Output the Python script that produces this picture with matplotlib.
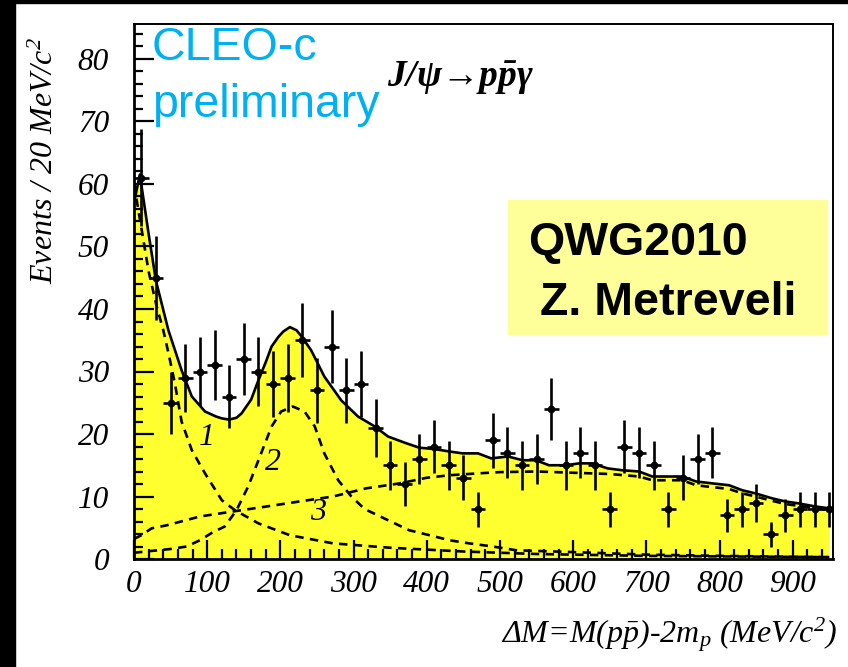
import matplotlib
matplotlib.use("Agg")
import matplotlib.pyplot as plt
from matplotlib.patches import Rectangle
from matplotlib.ticker import MultipleLocator
import numpy as np

plt.rcParams['mathtext.fontset'] = 'custom'
plt.rcParams['mathtext.rm'] = 'Liberation Serif:italic'
plt.rcParams['mathtext.it'] = 'Liberation Serif:italic'
plt.rcParams['mathtext.bf'] = 'Liberation Serif:bold:italic'

# data: events per 20 MeV bin, bin centres 10..950
bin_centres = np.arange(10, 960, 20)
counts = [61, 45, 25, 29, 30, 31, 26, 32, 30, 28, 29, 35, 27, 34, 27, 28,
          21, 15, 12, 16, 18, 15, 13, 8, 19, 17, 15, 16, 24, 15, 17, 15,
          8, 18, 17, 15, 8, 13, 16, 17, 7, 8, 9, 4, 7, 8, 8, 8]
errors = [7.8, 6.7, 5.0, 5.4, 5.5, 5.6, 5.1, 5.7, 5.5, 5.3, 5.4, 5.9, 5.2, 5.8, 5.2, 5.3,
          4.6, 3.9, 3.5, 4.0, 4.2, 3.9, 3.6, 2.8, 4.4, 4.1, 3.9, 4.0, 4.9, 3.9, 4.1, 3.9,
          2.8, 4.2, 4.1, 3.9, 2.8, 3.6, 4.0, 4.1, 2.6, 2.8, 3.0, 2.0, 2.6, 2.8, 2.8, 2.8]

# total fit
total_x = [0, 8, 20, 30, 47, 65, 79, 97, 112, 120, 130, 140, 147, 160, 170, 180, 188, 197,
           204, 213, 222, 229, 242, 260, 283, 306, 329, 347, 370, 390, 410, 431, 449,
           470, 488, 511, 531, 549, 567, 590, 608, 626, 647, 667, 690, 708, 727, 749,
           768, 790, 813, 831, 849, 872, 890, 908, 931, 950]
total_y = [57, 61.5, 52, 44.5, 36.6, 30.2, 26, 23.6, 22.8, 22.5, 22.3, 22.6, 23.3, 25.5,
           28.6, 31.5, 34.0, 35.5, 36.4, 37.1, 36.6, 35.6, 33.4, 29.2, 25.4, 22.8, 21.2,
           19.6, 18.6, 17.8, 17.6, 17.2, 16.9, 16.9, 16.1, 16.4, 15.8, 15.8, 15.0, 15.0,
           15.3, 15.3, 14.5, 14.2, 14.0, 13.2, 13.2, 13.2, 12.4, 12.1, 11.8, 11.0, 10.5,
           9.7, 9.2, 8.9, 8.4, 8.1]

# component 1
c1_x = [0, 10, 20, 31, 40, 47, 56, 65, 79, 97, 120, 138, 170, 213, 272, 350, 450, 550, 700, 950]
c1_y = [60, 53, 46, 40.4, 36.6, 33, 28, 22, 17.4, 13.7, 9.4, 7.8, 5.7, 3.8, 2.5, 1.8, 1.2, 0.8, 0.5, 0.3]

# component 2
c2_x = [0, 50, 72, 90, 108, 124, 140, 156, 170, 179, 188, 201, 217, 233, 247, 260, 279,
        297, 315, 340, 376, 404, 431, 458, 490, 522, 600, 700, 800, 950]
c2_y = [1.0, 1.6, 2.0, 3.0, 4.3, 5.2, 7.8, 11.6, 15.8, 18.5, 21.2, 23.6, 24.4, 23.6, 21.2,
        16.9, 12.6, 10.0, 8.0, 6.6, 4.6, 3.8, 3.0, 2.5, 2.0, 1.4, 1.1, 0.7, 0.5, 0.3]

# component 3
c3_x = [0, 10, 24, 45, 90, 135, 181, 226, 272, 317, 363, 400, 431, 470, 500, 550, 600,
        650, 690, 708, 749, 768, 790, 813, 831, 849, 872, 890, 908, 931, 950]
c3_y = [3.2, 3.8, 4.9, 5.4, 6.8, 7.6, 8.4, 9.2, 10.0, 11.3, 12.1, 13.0, 13.4, 13.7, 13.9,
        14.0, 13.8, 13.6, 13.2, 12.6, 12.6, 11.8, 11.5, 11.2, 10.5, 10.0, 9.3, 8.8, 8.5,
        8.1, 7.8]

yellow = '#ffff30'
serif = 'Liberation Serif'

fig = plt.figure(figsize=(8.48, 6.67), dpi=100, facecolor='white')
fig.patches.append(Rectangle((0, 0), 15 / 848, 1, transform=fig.transFigure,
                             color='black', zorder=0))
fig.patches.append(Rectangle((0, 1 - 3 / 667), 1, 3 / 667, transform=fig.transFigure,
                             color='black', zorder=0))

ax = fig.add_axes([134 / 848, 108 / 667, 699 / 848, 535 / 667])
ax.fill_between(total_x, total_y, 0, color=yellow, lw=0, zorder=1)
dash = (0, (3.2, 2.4))
ax.plot(c1_x, c1_y, color='black', lw=1.9, ls=dash, zorder=2)
ax.plot(c2_x, c2_y, color='black', lw=1.9, ls=dash, zorder=2)
ax.plot(c3_x, c3_y, color='black', lw=1.9, ls=dash, zorder=2)
ax.plot(total_x, total_y, color='black', lw=1.9, zorder=3)
ax.errorbar(bin_centres, counts, yerr=errors, xerr=10, fmt='o', ms=4.5, color='black',
            elinewidth=1.9, capsize=0, zorder=4)

for lab, x, y in [('1', 100, 19.4), ('2', 190, 15.4), ('3', 251, 7.5)]:
    ax.text(x, y, lab, family=serif, style='italic', fontsize=23, ha='center',
            va='center', zorder=5)

ax.set_xlim(0, 955)
ax.set_ylim(0, 85.6)
ax.xaxis.set_major_locator(MultipleLocator(100))
ax.xaxis.set_minor_locator(MultipleLocator(20))
ax.yaxis.set_major_locator(MultipleLocator(10))
ax.yaxis.set_minor_locator(MultipleLocator(2))
ax.tick_params(axis='both', which='both', direction='in', top=False, right=False,
               width=1.6, zorder=6)
ax.tick_params(axis='x', which='major', length=13.5, pad=8)
ax.tick_params(axis='x', which='minor', length=7)
ax.tick_params(axis='y', which='major', length=14.5, pad=18)
ax.tick_params(axis='y', which='minor', length=6.5)
for lbl in ax.get_xticklabels() + ax.get_yticklabels():
    lbl.set_family(serif)
    lbl.set_style('italic')
    lbl.set_fontsize(22.5)
for side in ['left', 'bottom']:
    ax.spines[side].set_linewidth(2.0)
for side in ['top', 'right']:
    ax.spines[side].set_linewidth(1.4)

fig.text(45 / 848, 1 - 160 / 667, 'Events / 20 MeV/c$^2$', family=serif, style='italic',
         fontsize=23, rotation=90, ha='center', va='center')
fig.text(837 / 848, 1 - 643 / 667, 'ΔM=M(p$\\bar{p}$)-2m$_p$ (MeV/c$^2$)', family=serif,
         style='italic', fontsize=23, ha='right', va='baseline')
fig.text(387 / 848, 1 - 87 / 667, 'J/ψ→p$\\mathbf{\\bar{p}}$γ', family=serif,
         style='italic', weight='bold', fontsize=27, ha='left', va='baseline')

fig.text(152 / 848, 1 - 60 / 667, 'CLEO-c', family='Liberation Sans', fontsize=33.5,
         color='#00b0f0', ha='left', va='baseline')
fig.text(152 / 848, 1 - 117 / 667, 'preliminary', family='Liberation Sans', fontsize=33.5,
         color='#00b0f0', ha='left', va='baseline')

fig.patches.append(Rectangle((508 / 848, 1 - 334 / 667), 319 / 848, 134 / 667,
                             transform=fig.transFigure, color='#ffff99', zorder=5))
fig.text(528 / 848, 1 - 255 / 667, 'QWG2010', family='Liberation Sans', weight='bold',
         fontsize=33.5, ha='left', va='baseline', zorder=6)
fig.text(540 / 848, 1 - 315 / 667, 'Z. Metreveli', family='Liberation Sans', weight='bold',
         fontsize=33.5, ha='left', va='baseline', zorder=6)

fig.savefig('out.png', dpi=100, facecolor='white')
